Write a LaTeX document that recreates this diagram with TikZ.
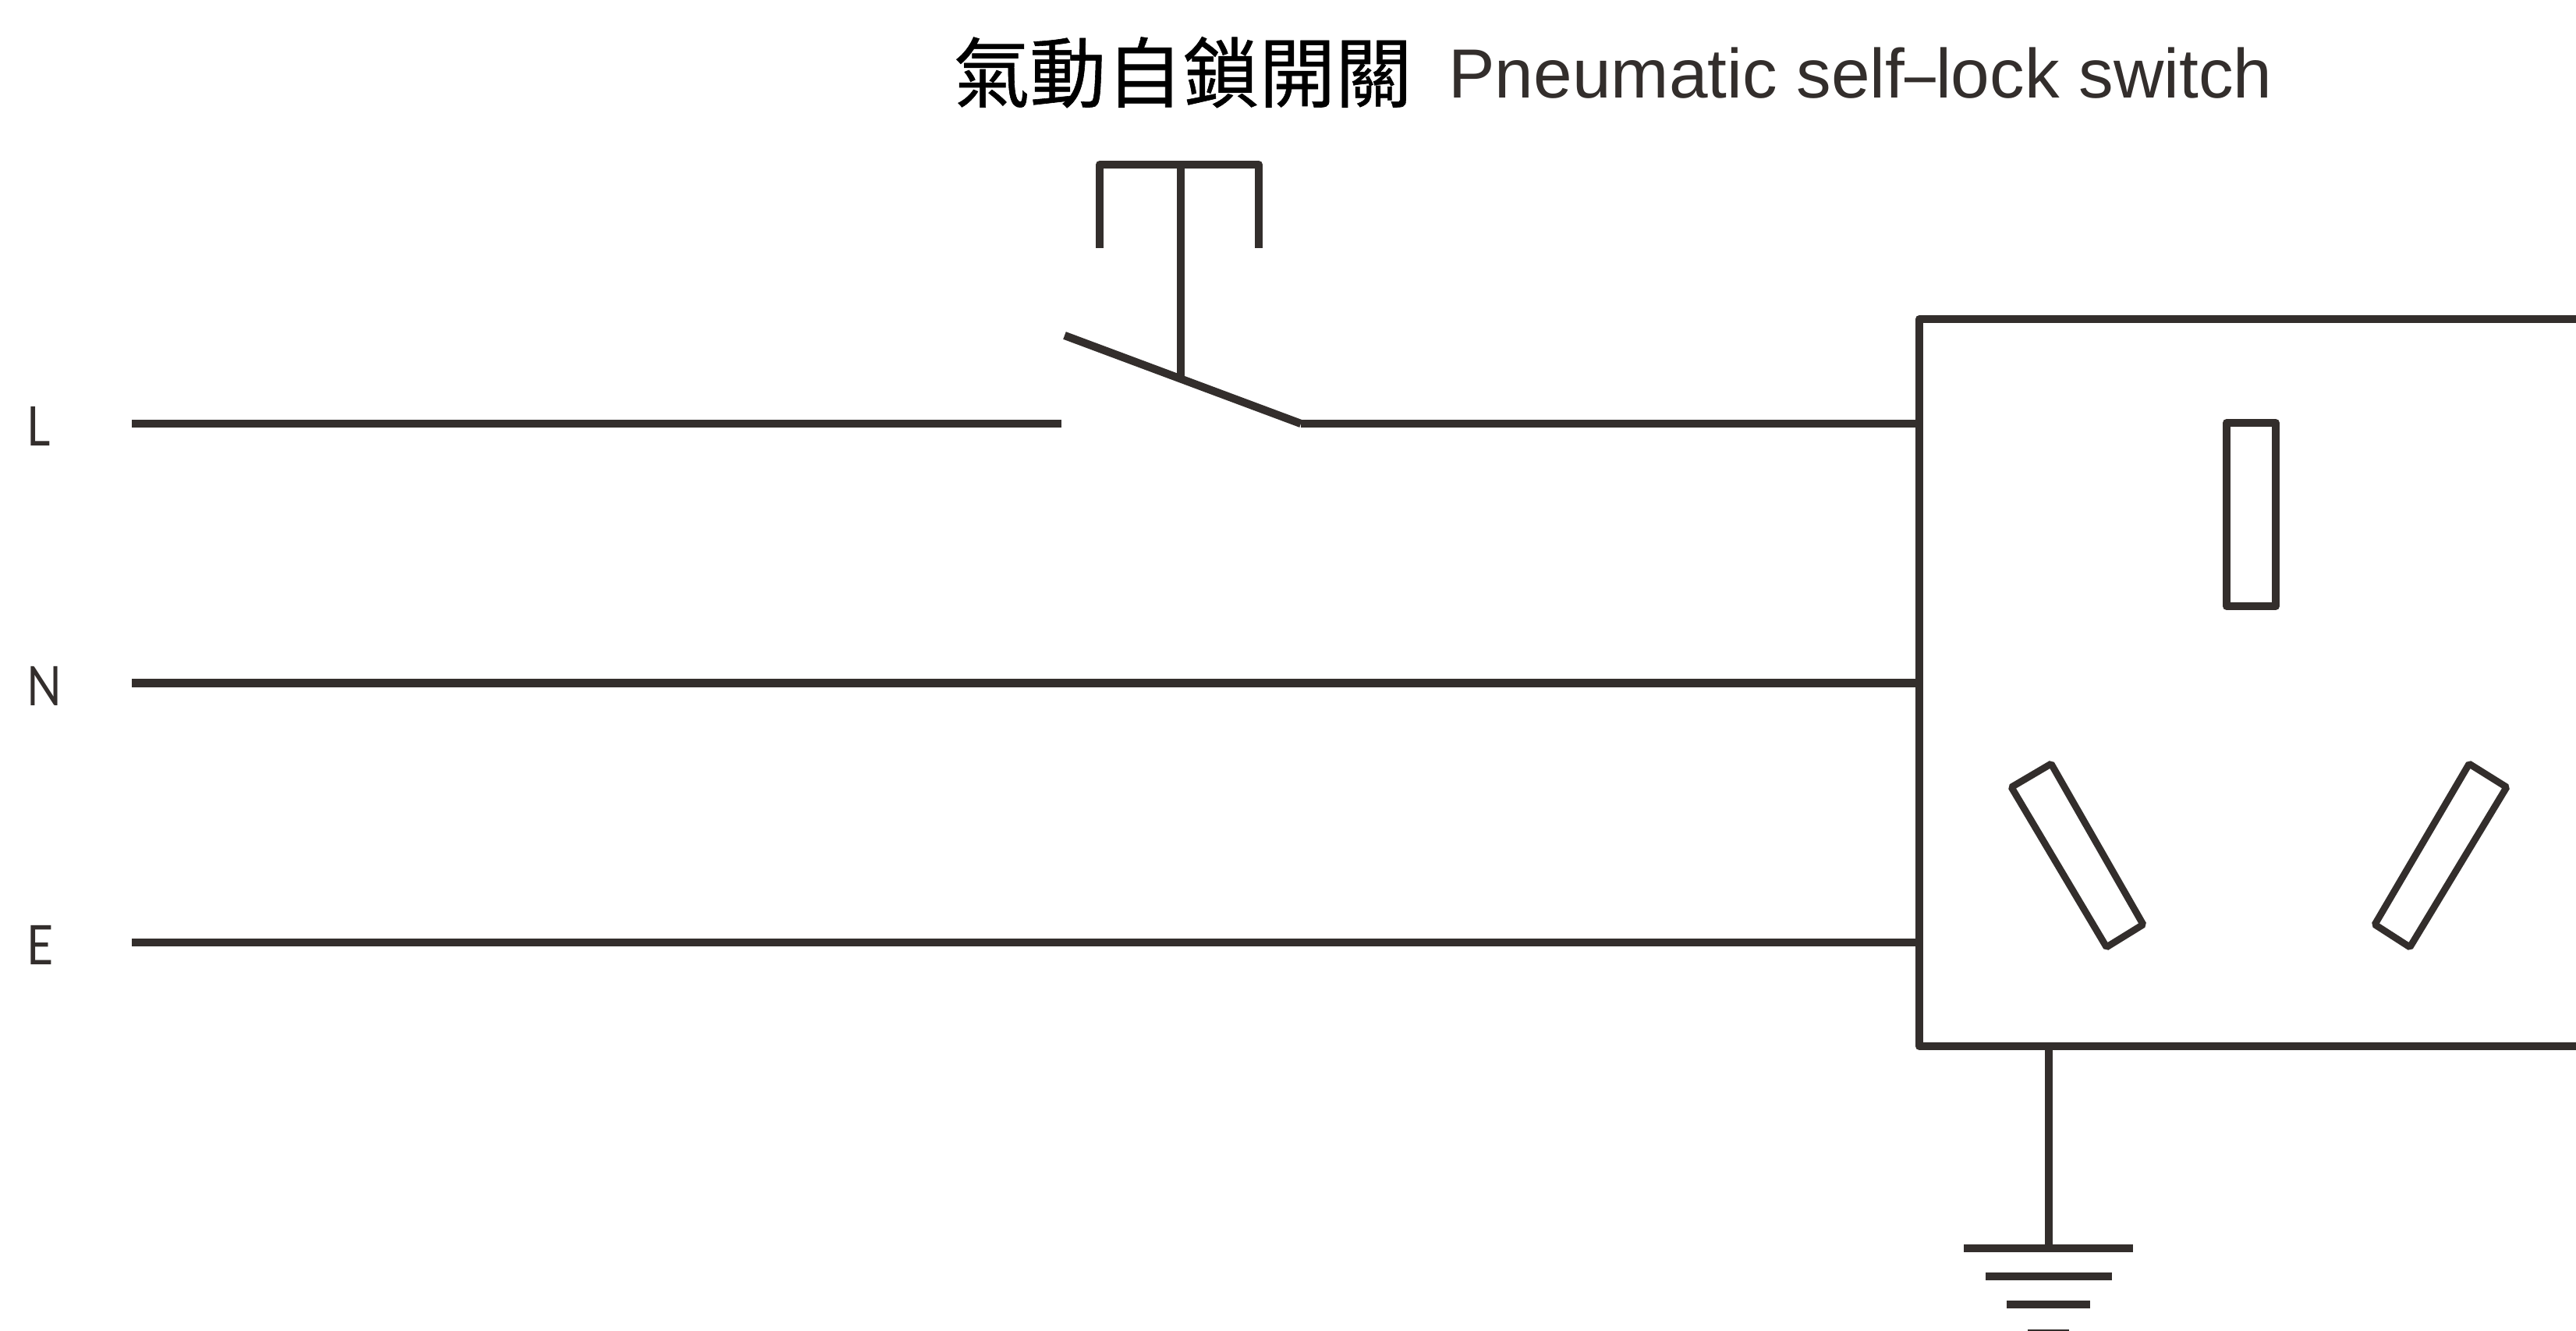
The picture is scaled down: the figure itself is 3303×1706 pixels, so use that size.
\documentclass[tikz,border=0pt]{standalone}
\usepackage{fontspec}
\setmainfont{Liberation Sans}
\newfontfamily\cjkfont[FakeBold=0.6]{Noto Sans CJK TC}
\newfontfamily\labelfont[FakeStretch=0.84]{Lato}
\definecolor{wire}{HTML}{332E2C}
\tikzset{
  wireline/.style={draw=wire,line width=5.1pt,line join=round},
  slotline/.style={draw=wire,line width=4.4pt,line join=bevel},
  lettertext/.style={inner sep=0pt,anchor=base west,text=wire,font=\labelfont\fontsize{35}{35}\selectfont},
}
\begin{document}
\begin{tikzpicture}[x=0.5pt,y=-0.5pt]
\useasboundingbox (0,0) rectangle (3303,1706);
% labels
\node[inner sep=0pt,anchor=base west,text=black,font=\cjkfont\fontsize{49}{49}\selectfont] (cn) at (1222,130) {氣動自鎖開關};
\node[inner sep=0pt,anchor=base west,text=wire,font=\fontsize{44.6}{44.6}\selectfont] (en) at (1857,126) {Pneumatic self\scalebox{0.8}[1]{–}lock switch};
\node[lettertext] (L) at (34,571) {L};
\node[lettertext] (N) at (34,904) {N};
\node[lettertext] (E) at (34,1236) {E};
% wire ends
\coordinate (L0) at (169,543);
\coordinate (N0) at (169,875.5);
\coordinate (E0) at (169,1208);
\coordinate (Lsw1) at (1361,543);
\coordinate (Lsw2) at (1668,543);
\coordinate (boxTL) at (2461,409);
\coordinate (boxBL) at (2461,1341);
\coordinate (boxTR) at (3320,409);
\coordinate (boxBR) at (3320,1341);
\coordinate (Lb) at (2461,543);
\coordinate (Nb) at (2461,875.5);
\coordinate (Eb) at (2461,1208);
\draw[wireline] (L0) -- (Lsw1);
\draw[wireline] (Lsw2) -- (Lb);
\draw[wireline] (N0) -- (Nb);
\draw[wireline] (E0) -- (Eb);
% switch
\coordinate (bladeA) at (1365,430);
\coordinate (bladeB) at (Lsw2);
\coordinate (stemB) at (1514,486);
\coordinate (stemT) at (1514,211);
\coordinate (capL) at (1410,318);
\coordinate (capLt) at (1410,211);
\coordinate (capRt) at (1614,211);
\coordinate (capR) at (1614,318);
\draw[wireline] (bladeA) -- (bladeB);
\draw[wireline] (stemB) -- (stemT);
\draw[wireline] (capL) -- (capLt) -- (capRt) -- (capR);
% socket
\draw[wireline] (boxTR) -- (boxTL) -- (boxBL) -- (boxBR);
\draw[wireline] (2855,542) rectangle (2918,777);
\draw[slotline] (2630,979) -- (2579,1009) -- (2701,1214) -- (2748,1185) -- cycle;
\draw[slotline] (3166,979) -- (3214,1009) -- (3090,1214) -- (3045,1185) -- cycle;
% earth
\coordinate (gTop) at (2627,1341);
\coordinate (gBot) at (2627,1600);
\draw[wireline] (gTop) -- (gBot);
\draw[draw=wire,line width=5.1pt] (2518,1600) -- (2735,1600);
\draw[draw=wire,line width=5.1pt] (2546,1636) -- (2708,1636);
\draw[draw=wire,line width=5.1pt] (2573,1672) -- (2680,1672);
\draw[draw=wire,line width=5.1pt] (2600,1709) -- (2653,1709);
\end{tikzpicture}
\end{document}
